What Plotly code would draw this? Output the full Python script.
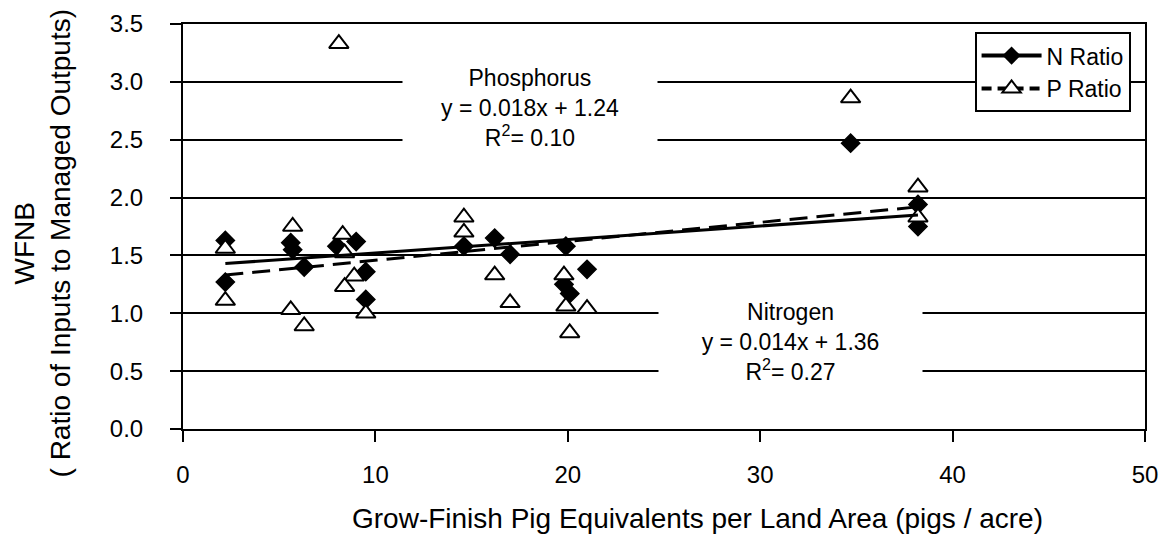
import plotly.graph_objects as go

# ---- data ----
n_x = [2.2, 2.2, 5.6, 5.7, 6.3, 8.0, 9.0, 9.5, 9.5, 14.6, 16.2, 17.0, 19.9, 19.8, 20.1, 21.0, 34.7, 38.2, 38.2]
n_y = [1.63, 1.27, 1.61, 1.55, 1.40, 1.58, 1.62, 1.36, 1.12, 1.58, 1.65, 1.51, 1.58, 1.25, 1.17, 1.38, 2.47, 1.94, 1.75]

p_x = [2.2, 2.2, 5.7, 5.6, 6.3, 8.1, 8.3, 8.4, 8.9, 8.4, 9.5, 14.6, 14.6, 16.2, 17.0, 19.8, 19.9, 20.1, 21.0, 34.7, 38.2, 38.2]
p_y = [1.56, 1.11, 1.75, 1.03, 0.89, 3.33, 1.68, 1.52, 1.32, 1.23, 1.00, 1.83, 1.70, 1.33, 1.09, 1.33, 1.06, 0.83, 1.04, 2.86, 2.09, 1.83]

trend_x = [2.2, 38.2]
n_trend_y = [1.43, 1.85]
p_trend_y = [1.33, 1.92]

x_ticks = [0, 10, 20, 30, 40, 50]
y_ticks = [0.0, 0.5, 1.0, 1.5, 2.0, 2.5, 3.0, 3.5]

FONT = "Liberation Sans, Arial, sans-serif"

fig = go.Figure()

fig.add_trace(go.Scatter(
    x=n_x, y=n_y, mode="markers", showlegend=False,
    marker=dict(symbol="diamond", size=14, color="black", line=dict(color="black", width=1.5)),
))
fig.add_trace(go.Scatter(
    x=p_x, y=p_y, mode="markers", showlegend=False,
    marker=dict(symbol="triangle-up", size=17, color="white", line=dict(color="black", width=2)),
))
fig.add_trace(go.Scatter(
    x=trend_x, y=n_trend_y, mode="lines", showlegend=False,
    line=dict(color="black", width=3),
))
fig.add_trace(go.Scatter(
    x=trend_x, y=p_trend_y, mode="lines", showlegend=False,
    line=dict(color="black", width=3, dash="18px,9px"),
))
# legend-only entries
fig.add_trace(go.Scatter(
    x=[None], y=[None], mode="lines+markers", name="N Ratio",
    line=dict(color="black", width=4),
    marker=dict(symbol="diamond", size=14, color="black"),
))
fig.add_trace(go.Scatter(
    x=[None], y=[None], mode="lines+markers", name="P Ratio",
    line=dict(color="black", width=4, dash="10px,6px"),
    marker=dict(symbol="triangle-up", size=17, color="white", line=dict(color="black", width=2)),
))

annotations = [
    dict(x=18.04, y=2.77, xref="x", yref="y",
         text="Phosphorus<br>y = 0.018x + 1.24<br>R<sup>2</sup>= 0.10",
         showarrow=False, font=dict(family=FONT, size=23, color="black"),
         bgcolor="white", width=250, borderpad=2, align="center"),
    dict(x=31.55, y=0.75, xref="x", yref="y",
         text="Nitrogen<br>y = 0.014x + 1.36<br>R<sup>2</sup>= 0.27",
         showarrow=False, font=dict(family=FONT, size=23, color="black"),
         bgcolor="white", width=259, borderpad=2, align="center"),
    dict(x=0.535, y=-0.22, xref="paper", yref="paper",
         text="Grow-Finish Pig Equivalents per Land Area (pigs / acre)",
         showarrow=False, font=dict(family=FONT, size=28, color="black"),
         xanchor="center", yanchor="middle"),
    dict(x=-0.146, y=0.457, xref="paper", yref="paper",
         text="WFNB<br>( Ratio of Inputs to Managed Outputs)",
         showarrow=False, textangle=-90, font=dict(family=FONT, size=28, color="black"),
         xanchor="center", yanchor="middle"),
]

fig.update_layout(
    width=1162, height=535,
    margin=dict(l=183, r=17, t=24, b=106, autoexpand=False),
    paper_bgcolor="white", plot_bgcolor="white",
    font=dict(family=FONT, size=24, color="black"),
    showlegend=True,
    legend=dict(
        x=0.985, y=0.98, xanchor="right", yanchor="top",
        bgcolor="white", bordercolor="black", borderwidth=2,
        font=dict(family=FONT, size=23, color="black"),
        tracegroupgap=0, itemwidth=60,
    ),
    annotations=annotations,
)

fig.update_xaxes(
    range=[0, 50], tickvals=x_ticks, ticktext=[str(v) for v in x_ticks],
    showgrid=False, zeroline=False, automargin=False,
    showline=True, linecolor="black", linewidth=2, mirror=True,
    ticks="outside", ticklen=11, tickwidth=2, tickcolor="black",
    tickfont=dict(family=FONT, size=24, color="black"),
    ticklabelstandoff=12,
)
fig.update_yaxes(
    range=[0, 3.5], tickvals=y_ticks, ticktext=[f"{v:.1f}" for v in y_ticks],
    showgrid=True, gridcolor="black", gridwidth=2, zeroline=False, automargin=False,
    showline=True, linecolor="black", linewidth=2, mirror=True,
    ticks="outside", ticklen=11, tickwidth=2, tickcolor="black",
    tickfont=dict(family=FONT, size=24, color="black"),
    ticklabelstandoff=22,
)

fig.write_html("out.html")
